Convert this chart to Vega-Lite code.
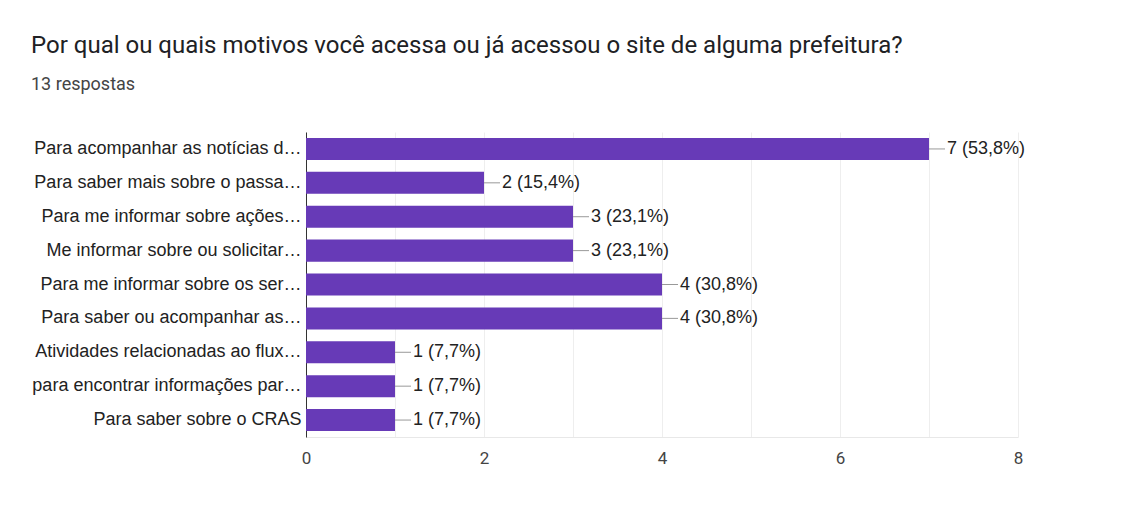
{
  "$schema": "https://vega.github.io/schema/vega-lite/v6.json",
  "autosize": "none",
  "width": 712,
  "height": 305,
  "padding": {"left": 306, "top": 132, "right": 114, "bottom": 83},
  "background": "white",
  "title": {
    "text": "Por qual ou quais motivos você acessa ou já acessou o site de alguma prefeitura?",
    "subtitle": "13 respostas",
    "anchor": "start",
    "frame": "group",
    "dx": -275,
    "offset": 38,
    "font": "Roboto",
    "fontSize": 24,
    "fontWeight": "normal",
    "color": "#202124",
    "subtitleFont": "Roboto",
    "subtitleFontSize": 18,
    "subtitleColor": "#444",
    "subtitlePadding": 18
  },
  "config": {"view": {"stroke": null}},
  "data": {
    "values": [
      {"motivo": "Para acompanhar as notícias d…", "n": 7, "label": "7 (53,8%)"},
      {"motivo": "Para saber mais sobre o passa…", "n": 2, "label": "2 (15,4%)"},
      {"motivo": "Para me informar sobre ações…", "n": 3, "label": "3 (23,1%)"},
      {"motivo": "Me informar sobre ou solicitar…", "n": 3, "label": "3 (23,1%)"},
      {"motivo": "Para me informar sobre os ser…", "n": 4, "label": "4 (30,8%)"},
      {"motivo": "Para saber ou acompanhar as…", "n": 4, "label": "4 (30,8%)"},
      {"motivo": "Atividades relacionadas ao flux…", "n": 1, "label": "1 (7,7%)"},
      {"motivo": "para encontrar informações par…", "n": 1, "label": "1 (7,7%)"},
      {"motivo": "Para saber sobre o CRAS", "n": 1, "label": "1 (7,7%)"}
    ]
  },
  "encoding": {
    "y": {
      "field": "motivo",
      "type": "nominal",
      "sort": null,
      "scale": {"paddingInner": 0.35, "paddingOuter": 0.175},
      "axis": {
        "title": null,
        "ticks": false,
        "labelFont": "Liberation Sans",
        "labelFontSize": 18,
        "labelColor": "#222",
        "labelPadding": 5,
        "labelLimit": 0,
        "domainColor": "#333",
        "domainWidth": 1,
        "grid": false
      }
    }
  },
  "layer": [
    {
      "mark": {"type": "bar", "color": "#673ab7"},
      "encoding": {
        "x": {
          "field": "n",
          "type": "quantitative",
          "scale": {"domain": [0, 8], "nice": false},
          "axis": {
            "title": null,
            "values": [0, 1, 2, 3, 4, 5, 6, 7, 8],
            "format": "d",
            "labelExpr": "datum.value % 2 == 0 ? datum.label : ''",
            "labelFlush": false,
            "ticks": false,
            "domain": true,
            "domainColor": "#e8e8e8",
            "gridColor": "#eeeeee",
            "labelFont": "Roboto",
            "labelFontSize": 17,
            "labelColor": "#444",
            "labelPadding": 13
          }
        }
      }
    },
    {
      "mark": {"type": "rule", "color": "#999", "x2Offset": 16, "strokeWidth": 1},
      "encoding": {
        "x": {"field": "n", "type": "quantitative"},
        "x2": {"field": "n"}
      }
    },
    {
      "mark": {"type": "text", "align": "left", "baseline": "middle", "dx": 18, "font": "Liberation Sans", "fontSize": 18, "color": "#222"},
      "encoding": {
        "x": {"field": "n", "type": "quantitative"},
        "text": {"field": "label"}
      }
    }
  ]
}
